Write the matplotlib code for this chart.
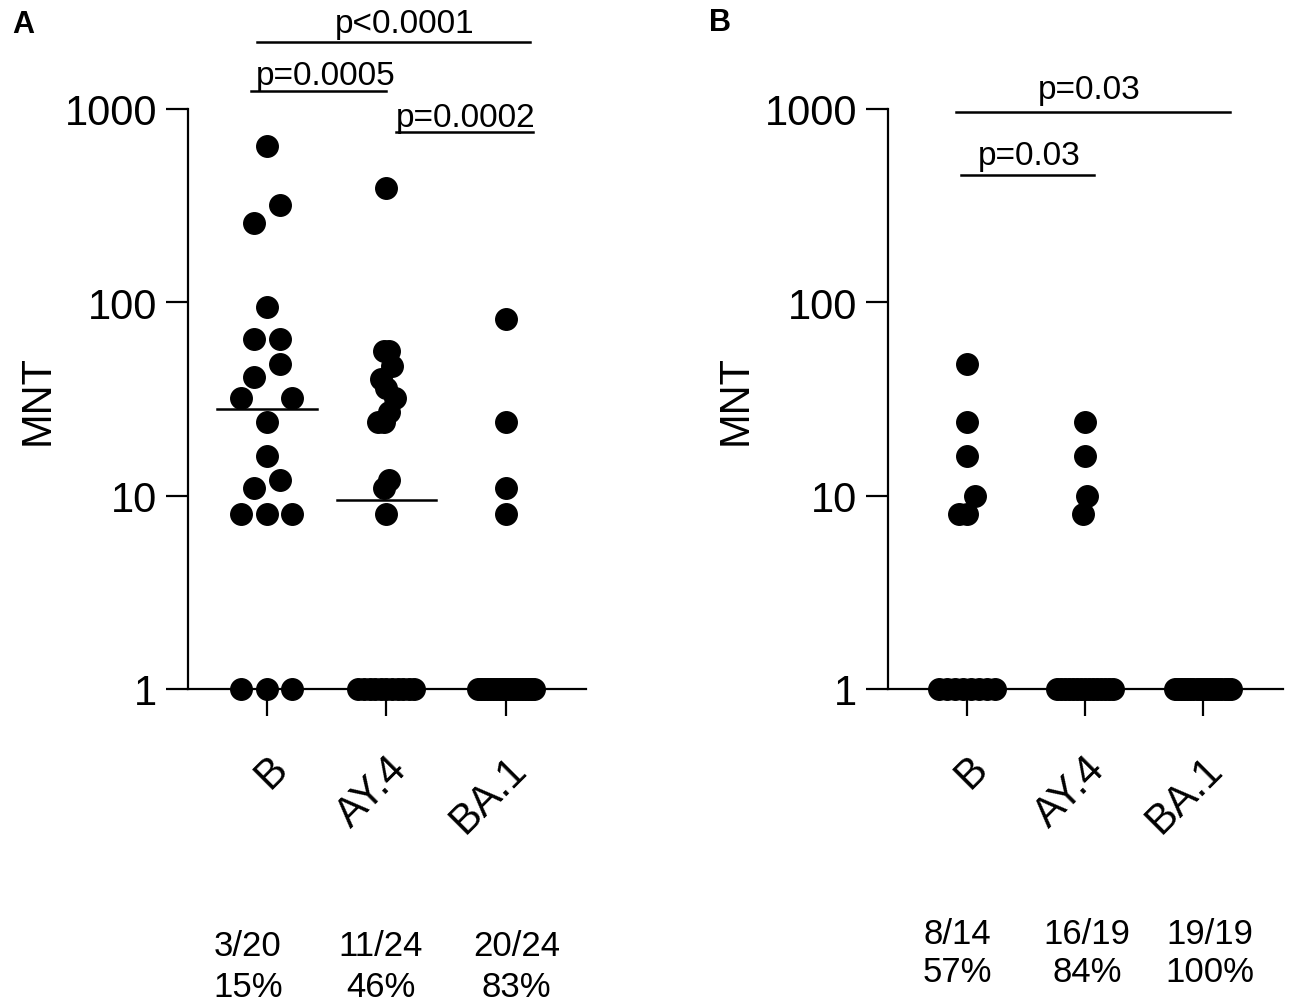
import numpy as np
import matplotlib
matplotlib.use('Agg')
import matplotlib.pyplot as plt
from matplotlib.ticker import NullLocator
from matplotlib.transforms import blended_transform_factory, ScaledTranslation

plt.rcParams['font.family'] = ['Liberation Sans', 'DejaVu Sans']

# ---------------- data ----------------
categories = ['B', 'AY.4', 'BA.1']

# Panel A (MNT values per variant)
a_B = [1, 1, 1, 8, 8, 8, 11, 12, 16, 24, 32, 32, 41, 48, 65, 65, 95, 257, 318, 641]
a_AY4 = [1] * 11 + [8, 11, 12, 24, 24, 27, 32, 36, 40, 47, 56, 56, 390]
a_BA1 = [1] * 20 + [8, 11, 24, 82]

# Panel B
b_B = [1] * 8 + [8, 8, 10, 16, 24, 48]
b_AY4 = [1] * 15 + [8, 10, 16, 24]
b_BA1 = [1] * 19

a_fractions = ['3/20', '11/24', '20/24']
a_percents = ['15%', '46%', '83%']
b_fractions = ['8/14', '16/19', '19/19']
b_percents = ['57%', '84%', '100%']

a_pvalues = ['p<0.0001', 'p=0.0005', 'p=0.0002']
b_pvalues = ['p=0.03', 'p=0.03']

yticks = [1, 10, 100, 1000]
ytick_labels = ['1', '10', '100', '1000']

# ---------------- layout ----------------
W, H = 1299, 1004
fig = plt.figure(figsize=(W / 100, H / 100), dpi=100)


def fy(py):
    return 1 - py / H


ROW_H = 25.0        # px, rows of the swarm
MAX_SPACING = 25.5  # px between neighbours in a row
MAX_HALF = 28.0     # px, max half width of a row


def swarm_offsets(ax, values):
    vals = np.asarray(values, dtype=float)
    ypx = ax.transData.transform(np.column_stack([np.zeros_like(vals), vals]))[:, 1]
    order = np.argsort(vals, kind='stable')
    rows = []
    cur = []
    start = None
    for idx in order:
        if start is None or ypx[idx] - start > ROW_H:
            if cur:
                rows.append(cur)
            cur = [idx]
            start = ypx[idx]
        else:
            cur.append(idx)
    if cur:
        rows.append(cur)
    nmax = max(len(r) for r in rows)
    spacing = MAX_SPACING if nmax < 2 else min(MAX_SPACING, 2 * MAX_HALF / (nmax - 1))
    pxu = ax.transData.transform((1, 1))[0] - ax.transData.transform((0, 1))[0]
    offs = np.zeros(len(vals))
    for r in rows:
        n = len(r)
        pos = (np.arange(n) - (n - 1) / 2) * spacing
        if n % 2 == 1 and n <= 5:
            # centre first, then alternate outwards
            pos = sorted(pos, key=lambda p: (abs(p), p))
        for k, idx in enumerate(r):
            offs[idx] = pos[k] / pxu
    return offs


def setup_axes(rect, xlim):
    ax = fig.add_axes(rect)
    ax.set_yscale('log')
    ax.set_ylim(1, 1000)
    ax.set_xlim(*xlim)
    ax.set_yticks(yticks)
    ax.set_yticklabels(ytick_labels)
    ax.yaxis.set_minor_locator(NullLocator())
    ax.set_xticks(range(len(categories)))
    ax.set_xticklabels(categories, rotation=45, ha='right', va='top',
                       rotation_mode='anchor')
    for lab in ax.get_xticklabels():
        lab.set_transform(lab.get_transform() +
                          ScaledTranslation(7 / 100, 0, fig.dpi_scale_trans))
    for s in ['top', 'right']:
        ax.spines[s].set_visible(False)
    for s in ['left', 'bottom']:
        ax.spines[s].set_linewidth(1.6)
    ax.tick_params(axis='y', length=15.8, width=1.6, pad=6.5, labelsize=30)
    ax.tick_params(axis='x', length=19.4, width=1.6, pad=23, labelsize=30)
    ax.set_ylabel('MNT', fontsize=30)
    ax.yaxis.label.set_va('center')
    return ax


def draw_groups(ax, groups):
    for i, g in enumerate(groups):
        offs = swarm_offsets(ax, g)
        ax.plot(i + offs, g, 'o', ms=15.5, color='black', mec='black',
                clip_on=False, zorder=3)
        med = np.median(g)
        if med > min(g):
            ax.plot([i - 0.415, i + 0.415], [med, med], color='black', lw=1.8,
                    clip_on=False, zorder=2)


def bracket(ax, x0, x1, py, text, tx, tpy):
    tr = blended_transform_factory(ax.transData, fig.transFigure)
    ax.plot([x0, x1], [fy(py), fy(py)], color='black', lw=1.8,
            transform=tr, clip_on=False)
    ax.text(tx, fy(tpy), text, transform=tr, ha='center', va='center',
            fontsize=24)


def bottom_text(ax, xs, line1, line2, py1, py2):
    tr = blended_transform_factory(ax.transData, fig.transFigure)
    for x, t1, t2 in zip(xs, line1, line2):
        ax.text(x, fy(py1), t1, transform=tr, ha='center', va='center', fontsize=25)
        ax.text(x, fy(py2), t2, transform=tr, ha='center', va='center', fontsize=25)


# Panel A
axA = setup_axes([188 / W, fy(690), 398 / W, 580 / H], (-0.661, 2.67))
axA.yaxis.set_label_coords(-0.377, 0.5)
draw_groups(axA, [a_B, a_AY4, a_BA1])
bracket(axA, -0.08, 2.20, 43, a_pvalues[0], 1.15, 24)
bracket(axA, -0.13, 1.00, 92, a_pvalues[1], 0.49, 76)
bracket(axA, 1.08, 2.23, 133, a_pvalues[2], 1.66, 118)
bottom_text(axA, [-0.16, 0.95, 2.09], a_fractions, a_percents, 946, 988)

# Panel B
axB = setup_axes([888 / W, fy(690), 395 / W, 580 / H], (-0.67, 2.68))
axB.yaxis.set_label_coords(-0.387, 0.5)
draw_groups(axB, [b_B, b_AY4, b_BA1])
bracket(axB, -0.09, 2.23, 113, b_pvalues[0], 1.04, 91)
bracket(axB, -0.05, 1.08, 176, b_pvalues[1], 0.53, 157)
bottom_text(axB, [-0.08, 1.02, 2.06], b_fractions, b_percents, 935, 973)

fig.text(12 / W, fy(25), 'A', fontsize=22, fontweight='bold', va='center', ha='left')
fig.text(709 / W, fy(23), 'B', fontsize=22, fontweight='bold', va='center', ha='left')

fig.savefig('out.png', dpi=100)
